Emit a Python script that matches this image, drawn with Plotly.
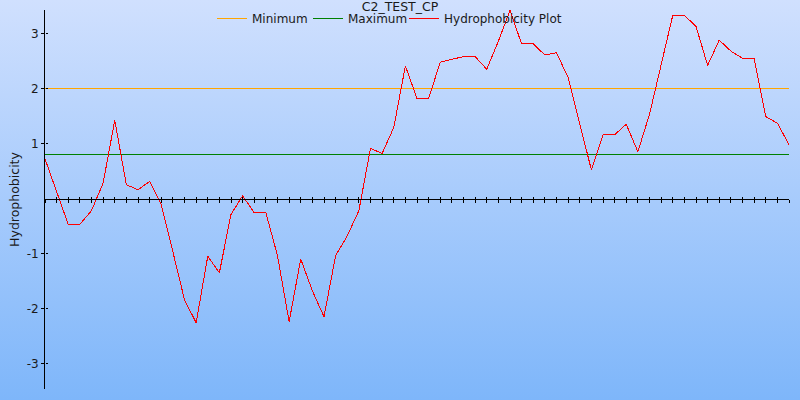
import base64
import plotly.graph_objects as go

# ---------------- data ----------------
title_text = "C2_TEST_CP"
series_name = "Hydrophobicity Plot"
min_name = "Minimum"
max_name = "Maximum"

positions = list(range(65))
hydrophobicity = [
    0.72, 0.13, -0.47, -0.47, -0.22, 0.28, 1.42, 0.25, 0.16, 0.31,
    -0.11, -0.97, -1.84, -2.26, -1.05, -1.35, -0.29, 0.05, -0.26, -0.26,
    -1.04, -2.24, -1.10, -1.68, -2.15, -1.04, -0.68, -0.22, 0.91, 0.82,
    1.29, 2.41, 1.82, 1.82, 2.48, 2.53, 2.58, 2.58, 2.35, 2.86,
    3.42, 2.81, 2.81, 2.61, 2.65, 2.20, 1.38, 0.52, 1.16, 1.16,
    1.35, 0.85, 1.53, 2.45, 3.33, 3.33, 3.13, 2.42, 2.88, 2.68,
    2.55, 2.55, 1.49, 1.37, 0.98,
]
minimum_level = 2.0
maximum_level = 0.8

y_tick_values = [-3, -2, -1, 1, 2, 3]
y_tick_labels = ["-3", "-2", "-1", "1", "2", "3"]

# ---------------- style ----------------
FONT = "DejaVu Sans"
W, H = 800, 400
M = dict(l=45, r=11, t=10, b=11, autoexpand=False)
pw = W - M["l"] - M["r"]
ph = H - M["t"] - M["b"]
PX_PER_UNIT = 55.0
Y_TOP = (198.5 - M["t"]) / PX_PER_UNIT
Y_RANGE = [Y_TOP - ph / PX_PER_UNIT, Y_TOP]
X_RANGE = [positions[0], positions[-1]]
zero_pos = (0 - Y_RANGE[0]) / (Y_RANGE[1] - Y_RANGE[0])
TOP_COLOR = "#D0E0FE"
BOTTOM_COLOR = "#7EB6FA"

svg = (
    '<svg xmlns="http://www.w3.org/2000/svg" width="10" height="400" '
    'viewBox="0 0 10 400" preserveAspectRatio="none">'
    '<defs><linearGradient id="g" x1="0" y1="0" x2="0" y2="1">'
    f'<stop offset="0" stop-color="{TOP_COLOR}"/>'
    f'<stop offset="1" stop-color="{BOTTOM_COLOR}"/>'
    '</linearGradient></defs>'
    '<rect width="10" height="400" fill="url(#g)"/></svg>'
)
bg_uri = "data:image/svg+xml;base64," + base64.b64encode(svg.encode()).decode()

fig = go.Figure()
fig.add_trace(go.Scatter(
    x=[X_RANGE[0], X_RANGE[1]], y=[minimum_level, minimum_level],
    mode="lines", name=min_name, line=dict(color="#FFA500", width=1),
))
fig.add_trace(go.Scatter(
    x=[X_RANGE[0], X_RANGE[1]], y=[maximum_level, maximum_level],
    mode="lines", name=max_name, line=dict(color="#008000", width=1),
))
fig.add_trace(go.Scatter(
    x=positions, y=hydrophobicity,
    mode="lines", name=series_name, line=dict(color="#FF0000", width=1),
))
# empty legend spacer so the last legend label is not clipped
fig.add_trace(go.Scatter(
    x=[None], y=[None], mode="lines", name=" ",
    line=dict(color="rgba(0,0,0,0)", width=0), hoverinfo="skip",
))
# helper trace so the overlay axes (used for crossing tick marks) are drawn
fig.add_trace(go.Scatter(
    x=[positions[0]], y=[0], xaxis="x2", yaxis="y2", mode="markers",
    marker=dict(opacity=0), showlegend=False, hoverinfo="skip",
))

axis_common = dict(showgrid=False, zeroline=False)

fig.update_layout(
    width=W, height=H,
    margin=M,
    paper_bgcolor="#A8CAFC",
    plot_bgcolor="rgba(0,0,0,0)",
    font=dict(family=FONT, size=12, color="#1a1a1a"),
    title=dict(
        text=title_text, x=0.5, xref="container", xanchor="center",
        y=1 - 6.5 / H, yref="container", yanchor="middle",
        font=dict(family=FONT, size=12.5, color="#1a1a1a"),
    ),
    legend=dict(
        orientation="h", x=212 / W, xref="container", xanchor="left",
        y=1 - 18.5 / H, yref="container", yanchor="middle",
        bgcolor="rgba(0,0,0,0)", font=dict(family=FONT, size=12),
        itemwidth=30, entrywidth=51, entrywidthmode="pixels",
    ),
    showlegend=True,
    xaxis=dict(
        range=X_RANGE, anchor="free", position=zero_pos,
        showline=True, linecolor="black", linewidth=1,
        ticks="outside", ticklen=3, tickwidth=1, tickcolor="black",
        dtick=1, tick0=0, showticklabels=False, **axis_common,
    ),
    xaxis2=dict(
        range=X_RANGE, overlaying="x", anchor="free", position=zero_pos,
        showline=False, ticks="inside", ticklen=2, tickwidth=1,
        tickcolor="black", dtick=1, tick0=0, showticklabels=False,
        **axis_common,
    ),
    yaxis=dict(
        range=Y_RANGE, showline=True, linecolor="black", linewidth=1,
        ticks="outside", ticklen=3, tickwidth=1, tickcolor="black",
        tickvals=y_tick_values, ticktext=y_tick_labels,
        title=dict(text="Hydrophobicity", font=dict(family=FONT, size=12.5),
                   standoff=4),
        **axis_common,
    ),
    yaxis2=dict(
        range=Y_RANGE, overlaying="y", anchor="free", position=0, side="left",
        showline=False, ticks="inside", ticklen=2, tickwidth=1,
        tickcolor="black", tickvals=y_tick_values, showticklabels=False,
        **axis_common,
    ),
    images=[dict(
        source=bg_uri, xref="paper", yref="paper",
        x=-M["l"] / pw, y=1 + M["t"] / ph,
        sizex=W / pw, sizey=H / ph,
        xanchor="left", yanchor="top", sizing="stretch", layer="below",
    )],
)

page_js = (
    "document.documentElement.style.margin='0';"
    "document.body.style.margin='0';"
    "document.body.style.padding='0';"
    "document.body.style.overflow='hidden';"
    f"document.body.style.background='linear-gradient({TOP_COLOR},{BOTTOM_COLOR})';"
    "document.querySelectorAll('.scatterlayer path.js-line')"
    ".forEach(function(p){var s=(p.style.stroke||'')+(p.getAttribute('style')||'');"
    "if(s.indexOf('255, 0, 0')>=0){p.style.shapeRendering='crispEdges';}});"
    "document.querySelectorAll('.xtick, .ytick, path.xline, path.yline')"
    ".forEach(function(p){p.style.shapeRendering='crispEdges';});"
)
fig.write_html("out.html", post_script=page_js,
               config={"displayModeBar": False, "staticPlot": True})
